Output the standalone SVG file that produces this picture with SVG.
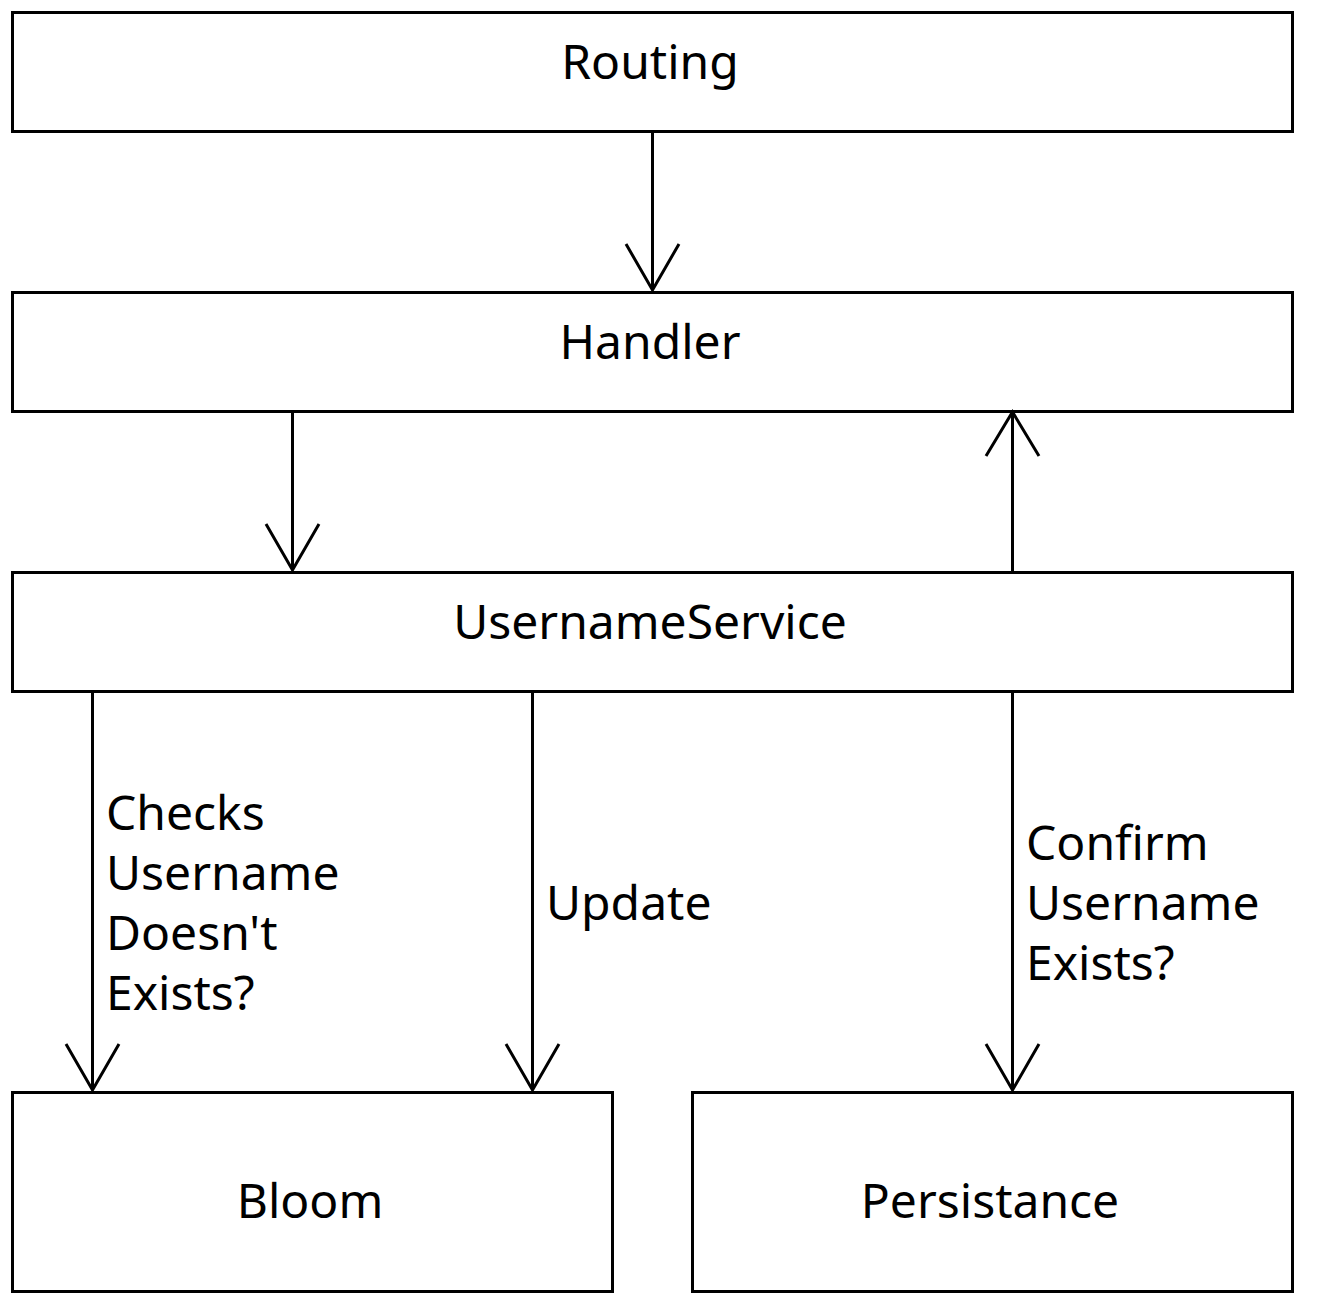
<svg xmlns="http://www.w3.org/2000/svg" width="1340" height="1300" viewBox="0 0 1340 1300">
<style>
.box{fill:#fff;stroke:#000;stroke-width:3}
.t{font-family:"Noto Sans","Open Sans",sans-serif;font-size:48px;fill:#000}
.c{text-anchor:middle}
.ln{fill:none;stroke:#000;stroke-width:3}
</style>
<rect width="1340" height="1300" fill="#fff"/>
<g id="routing"><rect class="box" x="12.5" y="12.5" width="1280" height="119"/><text class="t c" x="650" y="79">Routing</text></g>
<g id="handler"><rect class="box" x="12.5" y="292.5" width="1280" height="119"/><text class="t c" x="650" y="359">Handler</text></g>
<g id="usernameservice"><rect class="box" x="12.5" y="572.5" width="1280" height="119"/><text class="t c" x="650" y="639">UsernameService</text></g>
<g id="bloom"><rect class="box" x="12.5" y="1092.5" width="600" height="199"/><text class="t c" x="310" y="1218">Bloom</text></g>
<g id="persistance"><rect class="box" x="692.5" y="1092.5" width="600" height="199"/><text class="t c" x="990" y="1218">Persistance</text></g>
<g id="connectors">
<path class="ln" d="M652.5 132V290M626 244L652.5 290L679 244"/>
<path class="ln" d="M292.5 412V570M266 524L292.5 570L319 524"/>
<path class="ln" d="M1012.5 572V412M986 456L1012.5 412L1039 456"/>
<path class="ln" d="M92.5 692V1090M66 1044L92.5 1090L119 1044"/>
<path class="ln" d="M532.5 692V1090M506 1044L532.5 1090L559 1044"/>
<path class="ln" d="M1012.5 692V1090M986 1044L1012.5 1090L1039 1044"/>
<text class="t" x="106" y="830">Checks</text>
<text class="t" x="106" y="890">Username</text>
<text class="t" x="106" y="950">Doesn't</text>
<text class="t" x="106" y="1010">Exists?</text>
<text class="t" x="546" y="920">Update</text>
<text class="t" x="1026" y="860">Confirm</text>
<text class="t" x="1026" y="920">Username</text>
<text class="t" x="1026" y="980">Exists?</text>
</g>
</svg>
